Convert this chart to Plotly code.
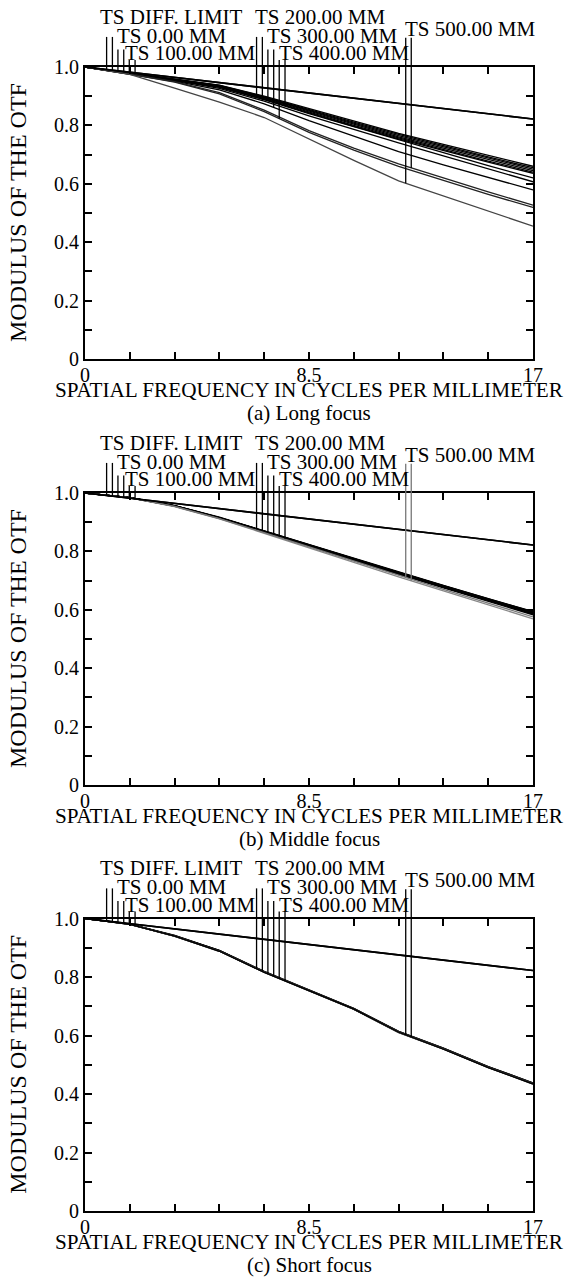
import numpy as np
import plotly.graph_objects as go

# ---------------- data ----------------
freq = [0, 1.7, 3.4, 5.1, 6.8, 8.5, 10.2, 11.9, 13.6, 15.3, 17]
x_tick_vals = [0, 1.7, 3.4, 5.1, 6.8, 8.5, 10.2, 11.9, 13.6, 15.3, 17]
x_tick_text = ["0", "", "", "", "", "8.5", "", "", "", "", "17"]
y_tick_vals = [0, 0.1, 0.2, 0.3, 0.4, 0.5, 0.6, 0.7, 0.8, 0.9, 1.0]
y_tick_text = ["0", "", "0.2", "", "0.4", "", "0.6", "", "0.8", "", "1.0"]

field_names = ["0.00", "100.00", "200.00", "300.00", "400.00", "500.00"]

diff_limit = [1.0, 0.982, 0.964, 0.946, 0.928, 0.911, 0.893, 0.875, 0.857, 0.839, 0.822]

# (a) Long focus: tangential / sagittal curves for each field
long_T = [
    [1.0, 0.979, 0.960, 0.938, 0.900, 0.857, 0.815, 0.773, 0.735, 0.697, 0.660],
    [1.0, 0.979, 0.958, 0.936, 0.896, 0.851, 0.808, 0.765, 0.726, 0.688, 0.650],
    [1.0, 0.978, 0.958, 0.935, 0.894, 0.848, 0.804, 0.761, 0.722, 0.683, 0.645],
    [1.0, 0.978, 0.957, 0.934, 0.892, 0.845, 0.800, 0.757, 0.717, 0.678, 0.640],
    [1.0, 0.976, 0.948, 0.908, 0.847, 0.776, 0.715, 0.660, 0.612, 0.564, 0.519],
    [1.0, 0.975, 0.928, 0.880, 0.827, 0.754, 0.680, 0.610, 0.558, 0.505, 0.455],
]
long_S = [
    [1.0, 0.979, 0.959, 0.937, 0.898, 0.854, 0.811, 0.769, 0.730, 0.692, 0.655],
    [1.0, 0.978, 0.955, 0.930, 0.888, 0.840, 0.795, 0.750, 0.706, 0.662, 0.620],
    [1.0, 0.977, 0.954, 0.927, 0.883, 0.833, 0.786, 0.740, 0.696, 0.651, 0.607],
    [1.0, 0.977, 0.952, 0.922, 0.874, 0.816, 0.762, 0.710, 0.665, 0.621, 0.579],
    [1.0, 0.978, 0.956, 0.932, 0.889, 0.842, 0.797, 0.754, 0.713, 0.674, 0.636],
    [1.0, 0.976, 0.950, 0.912, 0.852, 0.782, 0.722, 0.668, 0.620, 0.572, 0.527],
]

# (b) Middle focus
mid_T = [
    [1.0, 0.984, 0.957, 0.917, 0.870, 0.823, 0.777, 0.729, 0.684, 0.638, 0.594],
    [1.0, 0.984, 0.957, 0.916, 0.869, 0.822, 0.776, 0.727, 0.682, 0.636, 0.592],
    [1.0, 0.984, 0.956, 0.915, 0.868, 0.821, 0.775, 0.726, 0.681, 0.635, 0.590],
    [1.0, 0.984, 0.956, 0.915, 0.868, 0.820, 0.774, 0.725, 0.680, 0.634, 0.589],
    [1.0, 0.984, 0.955, 0.914, 0.867, 0.819, 0.772, 0.723, 0.678, 0.632, 0.587],
    [1.0, 0.983, 0.954, 0.912, 0.864, 0.815, 0.767, 0.717, 0.670, 0.623, 0.576],
]
mid_S = [
    [1.0, 0.984, 0.957, 0.916, 0.870, 0.822, 0.776, 0.728, 0.683, 0.637, 0.593],
    [1.0, 0.984, 0.956, 0.915, 0.869, 0.821, 0.775, 0.727, 0.681, 0.635, 0.591],
    [1.0, 0.984, 0.956, 0.915, 0.868, 0.820, 0.774, 0.725, 0.680, 0.633, 0.588],
    [1.0, 0.984, 0.955, 0.914, 0.867, 0.819, 0.773, 0.724, 0.678, 0.631, 0.586],
    [1.0, 0.983, 0.955, 0.913, 0.866, 0.817, 0.770, 0.721, 0.675, 0.628, 0.583],
    [1.0, 0.983, 0.953, 0.911, 0.862, 0.812, 0.763, 0.713, 0.665, 0.617, 0.569],
]

# (c) Short focus
short_T = [
    [1.0, 0.981, 0.942, 0.891, 0.819, 0.756, 0.693, 0.614, 0.557, 0.494, 0.438],
    [1.0, 0.981, 0.941, 0.890, 0.818, 0.755, 0.692, 0.613, 0.556, 0.493, 0.437],
    [1.0, 0.981, 0.941, 0.890, 0.818, 0.754, 0.691, 0.612, 0.555, 0.492, 0.436],
    [1.0, 0.981, 0.941, 0.889, 0.817, 0.754, 0.691, 0.612, 0.555, 0.492, 0.436],
    [1.0, 0.980, 0.940, 0.889, 0.817, 0.753, 0.690, 0.611, 0.554, 0.491, 0.435],
    [1.0, 0.980, 0.940, 0.888, 0.816, 0.753, 0.690, 0.611, 0.553, 0.490, 0.434],
]
short_S = [
    [1.0, 0.981, 0.942, 0.890, 0.819, 0.756, 0.692, 0.614, 0.557, 0.494, 0.438],
    [1.0, 0.981, 0.941, 0.890, 0.818, 0.755, 0.692, 0.613, 0.556, 0.493, 0.437],
    [1.0, 0.981, 0.941, 0.889, 0.818, 0.754, 0.691, 0.612, 0.555, 0.492, 0.436],
    [1.0, 0.980, 0.940, 0.889, 0.817, 0.754, 0.690, 0.612, 0.554, 0.491, 0.435],
    [1.0, 0.980, 0.940, 0.888, 0.817, 0.753, 0.690, 0.611, 0.554, 0.491, 0.435],
    [1.0, 0.980, 0.939, 0.888, 0.816, 0.752, 0.689, 0.610, 0.553, 0.490, 0.434],
]

# legend marker lines (Zemax style): frequency position and top level
marker_x = [0.82, 1.04, 1.25, 1.47, 1.68, 1.90, 6.51, 6.73, 6.94, 7.16, 7.37, 7.59, 12.17, 12.38]
marker_top = [1.103, 1.103, 1.060, 1.060, 1.024, 1.024, 1.103, 1.103, 1.060, 1.060, 1.024, 1.024, 1.100, 1.100]

# legend labels
label_text = ["TS DIFF. LIMIT", "TS 0.00 MM", "TS 100.00 MM", "TS 200.00 MM",
              "TS 300.00 MM", "TS 400.00 MM", "TS 500.00 MM"]
label_x = [0.50, 1.14, 1.45, 6.36, 6.83, 7.27, 12.08]
label_y = [1.171, 1.107, 1.047, 1.171, 1.107, 1.047, 1.131]

captions = ["(a) Long focus", "(b) Middle focus", "(c) Short focus"]
x_title = "SPATIAL FREQUENCY IN CYCLES PER MILLIMETER"
y_title = "MODULUS OF THE OTF"

# ---------------- layout geometry ----------------
W, H = 566, 1280


def px_x(p):
    return p / W


def px_y(p):
    return 1 - p / H


x_dom = [px_x(85), px_x(533)]
panels_px = [(67, 359), (493, 785), (918.5, 1211)]  # (top, bottom) pixel rows
FONT = "Liberation Serif"

panels = [
    (long_T, long_S, ["black"] * 4 + ["#222", "#444"], ["black"] * 4 + ["black", "#222"]),
    (mid_T, mid_S, ["black"] * 5 + ["#777"], ["black"] * 5 + ["#888"]),
    (short_T, short_S, ["black"] * 6, ["#666"] * 6),
]

fig = go.Figure()
layout = dict(
    width=W, height=H,
    margin=dict(l=0, r=0, t=0, b=0, pad=0, autoexpand=False),
    paper_bgcolor="white", plot_bgcolor="white", showlegend=False,
    font=dict(family=FONT, color="black"),
)
annotations = []
shapes = []

for i, (cT, cS, colT, colS) in enumerate(panels):
    n = "" if i == 0 else str(i + 1)
    xa, ya = "x" + n, "y" + n
    top, bot = panels_px[i]
    y_dom = [px_y(bot), px_y(top)]

    # field curves
    for k in range(len(field_names)):
        for curve, col, tag in ((cS[k], colS[k], "S"), (cT[k], colT[k], "T")):
            fig.add_trace(go.Scatter(
                x=freq, y=curve, mode="lines", xaxis=xa, yaxis=ya,
                line=dict(color=col, width=1.3),
                name=f"{tag} {field_names[k]} MM", hoverinfo="skip"))
    # diffraction limit (T and S coincide)
    for tag in ("T", "S"):
        fig.add_trace(go.Scatter(
            x=freq, y=diff_limit, mode="lines", xaxis=xa, yaxis=ya,
            line=dict(color="black", width=1.6), name=f"{tag} DIFF. LIMIT",
            hoverinfo="skip"))

    # marker lines down to their curves
    curve_for_marker = [diff_limit, diff_limit]
    for k in range(len(field_names)):
        curve_for_marker += [cT[k], cS[k]]
    for m, (mx, mt) in enumerate(zip(marker_x, marker_top)):
        bottom = float(np.interp(mx, freq, curve_for_marker[m]))
        col = "black"
        if i == 1 and m >= 12:
            col = "#777"
        shapes.append(dict(type="line", xref=xa, yref=ya + " domain",
                           x0=mx, x1=mx, y0=bottom, y1=mt,
                           line=dict(color=col, width=1.3), layer="above"))

    # legend labels
    for t, lx, ly in zip(label_text, label_x, label_y):
        annotations.append(dict(text=t, x=lx, y=ly, xref=xa, yref=ya + " domain",
                                xanchor="left", yanchor="middle", showarrow=False,
                                font=dict(family=FONT, size=21, color="black")))

    # axis titles and caption
    xc = (x_dom[0] + x_dom[1]) / 2
    annotations.append(dict(text=x_title, x=xc, y=px_y(bot + 31), xref="paper", yref="paper",
                            xanchor="center", yanchor="middle", showarrow=False,
                            font=dict(family=FONT, size=21.2, color="black")))
    annotations.append(dict(text=captions[i], x=xc, y=px_y(bot + 54), xref="paper", yref="paper",
                            xanchor="center", yanchor="middle", showarrow=False,
                            font=dict(family=FONT, size=21, color="black")))
    annotations.append(dict(text=y_title, x=px_x(18), y=(y_dom[0] + y_dom[1]) / 2,
                            xref="paper", yref="paper", textangle=-90,
                            xanchor="center", yanchor="middle", showarrow=False,
                            font=dict(family=FONT, size=24, color="black")))

    axis_common = dict(showgrid=False, zeroline=False, showline=True, linecolor="black",
                       linewidth=2, mirror="ticks", ticks="inside", ticklen=7,
                       tickwidth=1.5, tickcolor="black", automargin=False,
                       tickfont=dict(family=FONT, size=20, color="black"))
    layout["xaxis" + n] = dict(domain=x_dom, anchor=ya, range=[0, 17],
                               tickmode="array", tickvals=x_tick_vals, ticktext=x_tick_text,
                               ticklabelstandoff=-3, **axis_common)
    layout["yaxis" + n] = dict(domain=y_dom, anchor=xa, range=[0, 1],
                               tickmode="array", tickvals=y_tick_vals, ticktext=y_tick_text,
                               **axis_common)

layout["annotations"] = annotations
layout["shapes"] = shapes
fig.update_layout(**layout)
fig.write_html("out.html")
